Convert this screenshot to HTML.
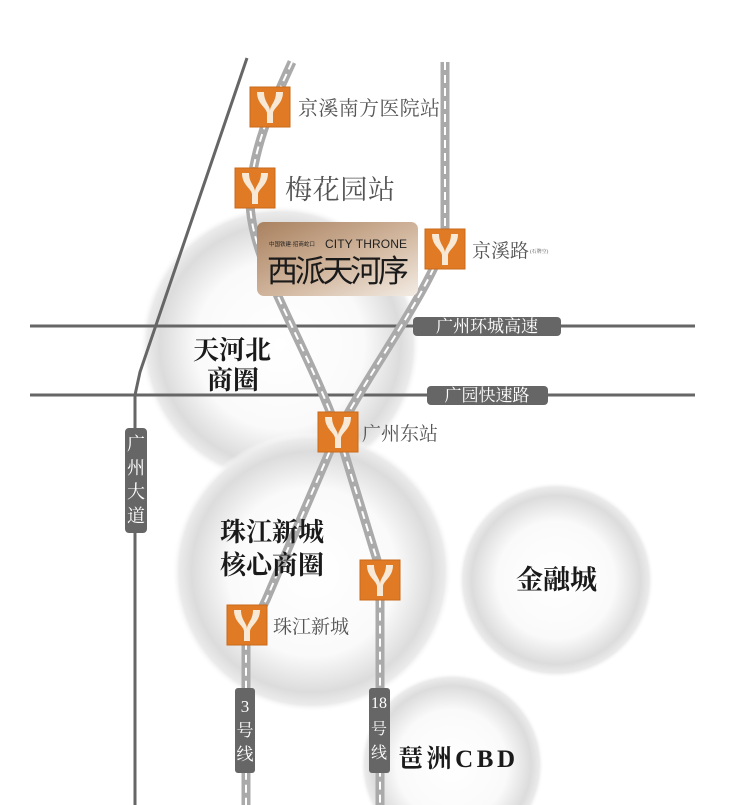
<!DOCTYPE html>
<html><head><meta charset="utf-8"><style>
html,body{margin:0;padding:0;background:#fff;width:740px;height:805px;overflow:hidden}
svg{display:block;position:absolute;left:0;top:0}
text{font-family:"Liberation Serif","Noto Serif CJK SC",serif}
</style></head><body>
<svg width="740" height="805" viewBox="0 0 740 805" xmlns="http://www.w3.org/2000/svg">
<defs>
<radialGradient id="c" cx="50%" cy="50%" r="50%">
<stop offset="0" stop-color="#fff"/>
<stop offset="0.6" stop-color="#fafafa"/>
<stop offset="0.86" stop-color="#dcdcdc"/>
<stop offset="0.95" stop-color="#ebebeb"/>
<stop offset="1" stop-color="#fff" stop-opacity="0"/>
</radialGradient>
<linearGradient id="b" x1="0" y1="0" x2="1" y2="1">
<stop offset="0" stop-color="#a9815f"/>
<stop offset="0.55" stop-color="#d2b79f"/>
<stop offset="1" stop-color="#f3ece4"/>
</linearGradient>
<g id="st">
<rect x="0" y="0" width="40" height="40" fill="#e07a24" stroke="#c86a1a"/>
<path d="M7 5 L14 5 C14 15 20 18 20 24 C20 18 26 15 26 5 L33 5 C33 17 24 20 23 26 L23 36 L17 36 L17 26 C16 20 7 17 7 5Z" fill="#f7e9d5"/>
</g>
</defs>
<circle cx="280" cy="345" r="140" fill="url(#c)"/>
<circle cx="312" cy="572" r="140" fill="url(#c)"/>
<circle cx="556" cy="580" r="98" fill="url(#c)"/>
<circle cx="452" cy="765" r="92" fill="url(#c)"/>

<path d="M247 58 L140 372 L135 395 L135 805" fill="none" stroke="#666" stroke-width="3"/>
<line x1="30" y1="326" x2="695" y2="326" stroke="#666" stroke-width="3"/>
<line x1="30" y1="395" x2="695" y2="395" stroke="#666" stroke-width="3"/>

<g fill="none">
<path id="l3" d="M292 62 C270 110 252 150 250 200 C250 260 300 330 338 432 L266 600 L246 640 L246 805"/>
<path id="l18" d="M445 62 L445 240 C430 290 370 370 338 432 L380 570 L380 805"/>
</g>
<use href="#l3" stroke="#aaa" stroke-width="9" fill="none"/>
<use href="#l3" stroke="#fff" stroke-width="2" stroke-dasharray="8 5" fill="none"/>
<use href="#l18" stroke="#aaa" stroke-width="9" fill="none"/>
<use href="#l18" stroke="#fff" stroke-width="2" stroke-dasharray="8 5" fill="none"/>

<rect x="413" y="317" width="148" height="19" rx="4" fill="#666"/>
<text x="487" y="332" font-size="17" fill="#fff" text-anchor="middle">广州环城高速</text>
<rect x="427" y="386" width="121" height="19" rx="4" fill="#666"/>
<text x="487" y="401" font-size="17" fill="#fff" text-anchor="middle">广园快速路</text>
<rect x="125" y="428" width="22" height="105" rx="4" fill="#666"/>
<g font-size="18" fill="#fff" text-anchor="middle"><text x="136" y="450">广</text><text x="136" y="474">州</text><text x="136" y="498">大</text><text x="136" y="522">道</text></g>
<rect x="235" y="688" width="20" height="85" rx="3" fill="#666"/>
<g font-size="17" fill="#fff" text-anchor="middle"><text x="245" y="712">3</text><text x="245" y="736">号</text><text x="245" y="760">线</text></g>
<rect x="369" y="688" width="21" height="85" rx="3" fill="#666"/>
<g font-size="16" fill="#fff" text-anchor="middle"><text x="379" y="708">18</text><text x="379" y="734">号</text><text x="379" y="758">线</text></g>

<rect x="257" y="222" width="161" height="74" rx="7" fill="url(#b)"/>
<text x="269" y="246" font-size="5.5" fill="#222" style="font-family:'Liberation Sans','Noto Sans CJK SC',sans-serif">中国铁建·招商蛇口</text>
<text x="325" y="248" font-size="12" fill="#222" style="font-family:'Liberation Sans',sans-serif" textLength="82">CITY THRONE</text>
<text x="267" y="282" font-size="31" fill="#1a1a1a" style="font-family:'Noto Sans CJK SC',sans-serif" textLength="142">西派天河序</text>

<use href="#st" x="250" y="87"/>
<use href="#st" x="235" y="168"/>
<use href="#st" x="425" y="229"/>
<use href="#st" x="318" y="412"/>
<use href="#st" x="360" y="560"/>
<use href="#st" x="227" y="605"/>

<g fill="#555">
<text x="298" y="115" font-size="20" textLength="142">京溪南方医院站</text>
<text x="285" y="199" font-size="27" textLength="110">梅花园站</text>
<text x="472" y="257" font-size="19">京溪路</text>
<text x="530" y="253" font-size="5">(石牌空)</text>
<text x="362" y="440" font-size="19">广州东站</text>
<text x="273" y="633" font-size="19">珠江新城</text>
</g>
<g fill="#1a1a1a" font-size="26" font-weight="bold">
<text x="193" y="359">天河北</text>
<text x="207" y="389">商圈</text>
<text x="220" y="541">珠江新城</text>
<text x="220" y="574">核心商圈</text>
<text x="516" y="589" font-size="27">金融城</text>
<text x="398" y="767" font-size="25" textLength="117">琶洲CBD</text>
</g>
</svg>
</body></html>
